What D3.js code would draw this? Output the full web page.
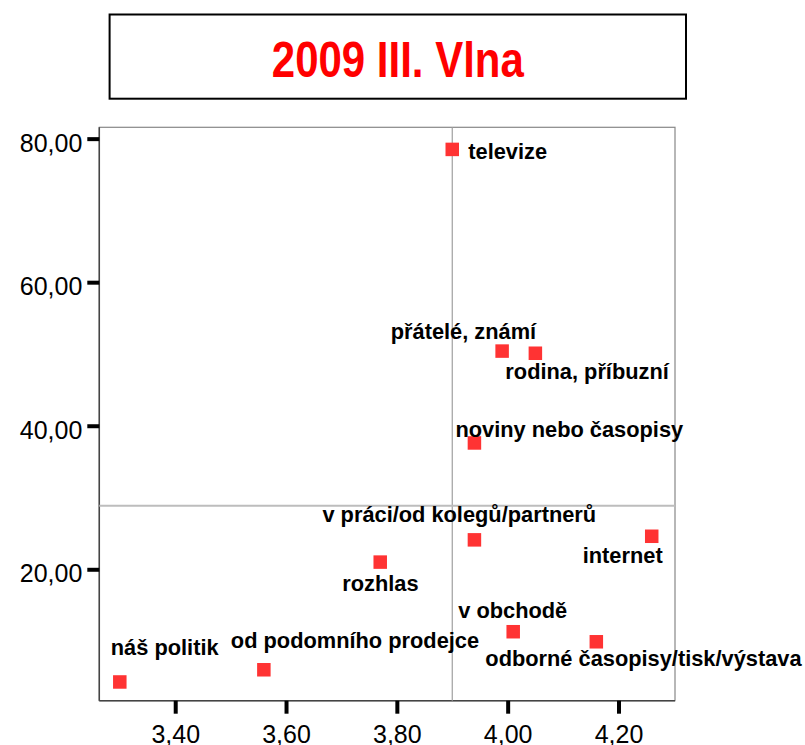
<!DOCTYPE html>
<html>
<head>
<meta charset="utf-8">
<script src="https://d3js.org/d3.v7.min.js"></script>
<style>
  body { margin: 0; background: #fff; }
  svg { display: block; font-family: "Liberation Sans", Arial, sans-serif; }
</style>
</head>
<body>
<div id="chart"></div>
<script>
  // data
  var labels = ["televize", "přátelé, známí", "rodina, příbuzní", "noviny nebo časopisy",
    "v práci/od kolegů/partnerů", "internet", "rozhlas", "v obchodě",
    "odborné časopisy/tisk/výstava", "od podomního prodejce", "náš politik"];
  var xValues = [3.90, 3.99, 4.05, 3.94, 3.94, 4.26, 3.77, 4.01, 4.16, 3.56, 3.30];
  var yValues = [78.5, 50.4, 50.1, 37.6, 24.1, 24.6, 21.0, 11.3, 9.9, 6.0, 4.3];
  var xTicks = [3.4, 3.6, 3.8, 4.0, 4.2];
  var yTicks = [20, 40, 60, 80];
  var xRef = 3.90;
  var yRef = 28.86;
  var title = "2009 III. Vlna";

  // label placement relative to the marker (px)
  var labelPos = [
    { dx: 16, dy: 10, anchor: "start" },
    { dx: 34, dy: -12, anchor: "end" },
    { dx: -30, dy: 26, anchor: "start" },
    { dx: -19, dy: -6, anchor: "start" },
    { dx: -152, dy: -18, anchor: "start" },
    { dx: -69, dy: 27, anchor: "start" },
    { dx: -38, dy: 29, anchor: "start" },
    { dx: -55, dy: -14, anchor: "start" },
    { dx: -111, dy: 24, anchor: "start" },
    { dx: -33, dy: -22, anchor: "start" },
    { dx: -9, dy: -27, anchor: "start" }
  ];

  var W = 805, H = 745;
  var mLeft = 99.3, mRight = 675, mTop = 127.3, mBottom = 700.7;

  var svg = d3.select("#chart").append("svg")
    .attr("width", W)
    .attr("height", H);

  // title box
  svg.append("rect")
    .attr("x", 109.6).attr("y", 14.5)
    .attr("width", 576.4).attr("height", 84.2)
    .attr("fill", "none")
    .attr("stroke", "#000")
    .attr("stroke-width", 2);

  svg.append("text")
    .attr("transform", "translate(397.8,76.5) scale(0.84,1)")
    .attr("text-anchor", "middle")
    .attr("fill", "#ff0000")
    .style("font-size", "50px")
    .style("font-weight", "bold")
    .text(title);

  var x = d3.scaleLinear().domain([3.263, 4.302]).range([mLeft, mRight]);
  var y = d3.scaleLinear().domain([1.69, 81.58]).range([mBottom, mTop]);

  var fmt = function(d) { return d3.format(".2f")(d).replace(".", ","); };

  // frame
  svg.append("rect")
    .attr("x", mLeft).attr("y", mTop)
    .attr("width", mRight - mLeft).attr("height", mBottom - mTop)
    .attr("fill", "none")
    .attr("stroke", "#888")
    .attr("stroke-width", 1.2);
  svg.append("line")
    .attr("x1", mLeft).attr("x2", mLeft).attr("y1", mTop).attr("y2", mBottom)
    .attr("stroke", "#444").attr("stroke-width", 1.5);
  svg.append("line")
    .attr("x1", mLeft).attr("x2", mRight).attr("y1", mBottom).attr("y2", mBottom)
    .attr("stroke", "#444").attr("stroke-width", 1.5);

  // reference lines
  svg.append("line")
    .attr("x1", x(xRef)).attr("x2", x(xRef))
    .attr("y1", mTop).attr("y2", mBottom)
    .attr("stroke", "#a0a0a0").attr("stroke-width", 1.2);
  svg.append("line")
    .attr("x1", mLeft).attr("x2", mRight)
    .attr("y1", y(yRef)).attr("y2", y(yRef))
    .attr("stroke", "#bdbdbd").attr("stroke-width", 2);

  // axes
  var gx = svg.append("g")
    .attr("transform", "translate(0," + mBottom + ")")
    .call(d3.axisBottom(x).tickValues(xTicks).tickFormat(fmt).tickSize(13).tickPadding(12));
  var gy = svg.append("g")
    .attr("transform", "translate(" + mLeft + ",0)")
    .call(d3.axisLeft(y).tickValues(yTicks).tickFormat(fmt).tickSize(12).tickPadding(5));

  [gx, gy].forEach(function(g) {
    g.select(".domain").remove();
    g.selectAll(".tick line").attr("stroke", "#000").attr("stroke-width", 4);
    g.selectAll(".tick text")
      .attr("fill", "#000")
      .style("font-size", "25px")
      .style("font-family", "'Liberation Sans', Arial, sans-serif");
  });
  gy.selectAll(".tick text").attr("dy", "0.5em");

  // markers
  var s = 13.5;
  svg.append("g").selectAll("rect")
    .data(labels)
    .join("rect")
    .attr("x", function(d, i) { return x(xValues[i]) - s / 2; })
    .attr("y", function(d, i) { return y(yValues[i]) - s / 2; })
    .attr("width", s).attr("height", s)
    .attr("fill", "#ff3333");

  // labels
  svg.append("g").selectAll("text")
    .data(labels)
    .join("text")
    .attr("x", function(d, i) { return x(xValues[i]) + labelPos[i].dx; })
    .attr("y", function(d, i) { return y(yValues[i]) + labelPos[i].dy; })
    .attr("text-anchor", function(d, i) { return labelPos[i].anchor; })
    .attr("fill", "#000")
    .style("font-size", "21.8px")
    .style("font-weight", "bold")
    .text(function(d) { return d; });
</script>
</body>
</html>
